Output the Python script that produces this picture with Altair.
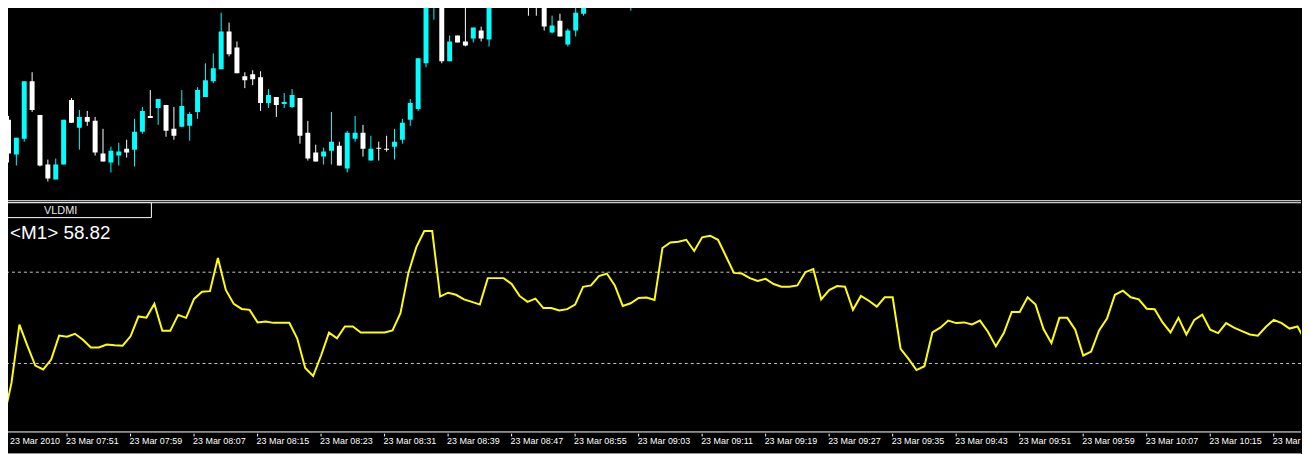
import altair as alt
import pandas as pd

# ---------------- data ----------------
candle_bar = list(range(0, 63)) + list(range(65, 74)) + [78, 79]
candle_open = [1.35082, 1.35047, 1.35063, 1.35121, 1.35087, 1.35037, 1.35022, 1.35037, 1.35102, 1.35074,
               1.35085, 1.35081, 1.35048, 1.35039, 1.35046, 1.35053, 1.35052, 1.35070, 1.35086, 1.35094,
               1.35097, 1.35073, 1.35075, 1.35076, 1.35090, 1.35105, 1.35121, 1.35133, 1.35171, 1.35155,
               1.35126, 1.35128, 1.35125, 1.35099, 1.35105, 1.35098, 1.35095, 1.35104, 1.35069, 1.35049,
               1.35045, 1.35051, 1.35056, 1.35033, 1.35063, 1.35069, 1.35041, 1.35054, 1.35053, 1.35055,
               1.35062, 1.35082, 1.35093, 1.35139, 1.35196, 1.35204, 1.35141, 1.35167, 1.35161, 1.35164,
               1.35172, 1.35163, 1.35220, 1.35205, 1.35206, 1.35206, 1.35208, 1.35170, 1.35182, 1.35158,
               1.35172, 1.35189, 1.35215, 1.35203]
candle_high = [1.35086, 1.35064, 1.35121, 1.35130, 1.35087, 1.35042, 1.35043, 1.35082, 1.35104, 1.35092,
               1.35091, 1.35085, 1.35073, 1.35055, 1.35059, 1.35062, 1.35083, 1.35095, 1.35112, 1.35103,
               1.35097, 1.35095, 1.35112, 1.35090, 1.35115, 1.35139, 1.35149, 1.35190, 1.35180, 1.35161,
               1.35130, 1.35132, 1.35131, 1.35113, 1.35105, 1.35109, 1.35113, 1.35104, 1.35081, 1.35057,
               1.35054, 1.35090, 1.35060, 1.35071, 1.35086, 1.35077, 1.35066, 1.35060, 1.35066, 1.35073,
               1.35083, 1.35103, 1.35144, 1.35205, 1.35210, 1.35208, 1.35167, 1.35167, 1.35205, 1.35175,
               1.35176, 1.35210, 1.35225, 1.35220, 1.35210, 1.35210, 1.35212, 1.35187, 1.35189, 1.35174,
               1.35199, 1.35210, 1.35220, 1.35220]
candle_low = [1.35039, 1.35036, 1.35060, 1.35090, 1.35035, 1.35020, 1.35022, 1.35037, 1.35079, 1.35052,
              1.35076, 1.35046, 1.35040, 1.35029, 1.35036, 1.35044, 1.35035, 1.35068, 1.35084, 1.35077,
              1.35065, 1.35062, 1.35075, 1.35061, 1.35083, 1.35105, 1.35119, 1.35133, 1.35146, 1.35129,
              1.35114, 1.35117, 1.35091, 1.35094, 1.35085, 1.35094, 1.35094, 1.35058, 1.35041, 1.35040,
              1.35037, 1.35037, 1.35036, 1.35029, 1.35060, 1.35045, 1.35041, 1.35041, 1.35050, 1.35042,
              1.35058, 1.35076, 1.35091, 1.35135, 1.35183, 1.35139, 1.35141, 1.35160, 1.35156, 1.35160,
              1.35161, 1.35156, 1.35195, 1.35197, 1.35187, 1.35187, 1.35172, 1.35169, 1.35166, 1.35156,
              1.35166, 1.35187, 1.35198, 1.35192]
candle_close = [1.35048, 1.35064, 1.35121, 1.35092, 1.35036, 1.35023, 1.35037, 1.35082, 1.35079, 1.35085,
                1.35080, 1.35049, 1.35040, 1.35051, 1.35050, 1.35049, 1.35070, 1.35091, 1.35084, 1.35103,
                1.35071, 1.35066, 1.35096, 1.35088, 1.35112, 1.35122, 1.35134, 1.35171, 1.35148, 1.35129,
                1.35122, 1.35123, 1.35099, 1.35107, 1.35097, 1.35100, 1.35107, 1.35066, 1.35043, 1.35040,
                1.35050, 1.35060, 1.35036, 1.35069, 1.35069, 1.35053, 1.35053, 1.35053, 1.35052, 1.35060,
                1.35079, 1.35099, 1.35144, 1.35197, 1.35206, 1.35141, 1.35161, 1.35160, 1.35157, 1.35175,
                1.35164, 1.35205, 1.35207, 1.35215, 1.35196, 1.35196, 1.35176, 1.35177, 1.35166, 1.35172,
                1.35190, 1.35205, 1.35205, 1.35215]

vldmi = [5.5, 21.5, 47.0, 37.8, 29.1, 27.4, 31.7, 42.2, 41.7, 43.0,
         40.4, 37.0, 37.0, 38.3, 38.0, 37.8, 41.9, 50.6, 50.1, 56.2,
         44.3, 44.3, 51.3, 50.0, 58.3, 61.4, 61.7, 76.2, 62.2, 56.1,
         53.9, 53.5, 48.0, 48.4, 47.8, 47.8, 47.8, 40.9, 28.0, 24.5,
         33.5, 43.5, 41.0, 46.2, 46.2, 43.6, 43.6, 43.6, 43.6, 44.5,
         52.0, 69.7, 81.0, 88.0, 88.0, 59.3, 61.0, 60.1, 58.1, 57.0,
         55.8, 67.4, 67.4, 67.4, 64.8, 59.6, 57.0, 58.4, 54.3, 54.3,
         53.2, 53.8, 55.8, 63.6, 64.2, 68.3, 69.4, 64.2, 55.2, 56.4,
         58.7, 58.9, 57.8, 80.6, 83.0, 83.3, 84.2, 79.3, 85.3, 86.0,
         84.2, 77.0, 69.7, 69.4, 67.4, 66.2, 67.1, 64.8, 63.6, 63.6,
         64.2, 70.0, 71.4, 58.1, 62.2, 63.9, 63.6, 53.5, 59.6, 57.5,
         54.9, 59.0, 59.0, 36.4, 32.0, 27.1, 28.8, 43.6, 45.7, 48.8,
         47.7, 48.0, 47.1, 48.8, 43.9, 37.5, 43.3, 52.6, 52.6, 59.0,
         55.8, 45.1, 39.0, 50.0, 50.0, 44.8, 33.5, 35.2, 44.5, 49.7,
         60.1, 61.9, 59.0, 58.1, 54.0, 53.8, 48.0, 43.6, 50.0, 42.7,
         49.1, 51.4, 44.8, 43.3, 47.7, 45.7, 44.2, 42.7, 42.2, 46.0,
         49.1, 47.7, 45.3, 46.2, 39.6]

levels = [70, 30]
tick_bars = list(range(0, 161, 8))
tick_labels = ["23 Mar 2010", "23 Mar 07:51", "23 Mar 07:59", "23 Mar 08:07", "23 Mar 08:15",
               "23 Mar 08:23", "23 Mar 08:31", "23 Mar 08:39", "23 Mar 08:47", "23 Mar 08:55",
               "23 Mar 09:03", "23 Mar 09:11", "23 Mar 09:19", "23 Mar 09:27", "23 Mar 09:35",
               "23 Mar 09:43", "23 Mar 09:51", "23 Mar 09:59", "23 Mar 10:07", "23 Mar 10:15",
               "23 Mar 10:23"]
indicator_name = "VLDMI"
indicator_readout = "<M1> 58.82"

# ---------------- layout ----------------
W = 1310
X_DOMAIN = [-0.3125, 163.4375]
FONT = "Liberation Sans"

candles = pd.DataFrame({"bar": candle_bar, "open": candle_open, "high": candle_high,
                        "low": candle_low, "close": candle_close})
candles["dir"] = ["up" if c > o else "down" for o, c in zip(candles["open"], candles["close"])]

xenc = alt.X("bar:Q", scale=alt.Scale(domain=X_DOMAIN, nice=False, zero=False), axis=None)
pscale = alt.Scale(domain=[1.35, 1.352], nice=False, zero=False)
cenc = alt.Color("dir:N", scale=alt.Scale(domain=["up", "down"], range=["#00FFFF", "#FFFFFF"]), legend=None)

cbase = alt.Chart(candles)
wicks = cbase.mark_rule(strokeWidth=1, clip=True).encode(
    x=xenc, y=alt.Y("low:Q", scale=pscale, axis=None), y2="high:Q", color=cenc)
bodies = cbase.mark_bar(size=5, clip=True).encode(
    x=xenc, y=alt.Y("open:Q", scale=pscale, axis=None), y2="close:Q", color=cenc)

one = pd.DataFrame({"a": [0]})
top_line = alt.Chart(one).mark_rule(color="white", strokeWidth=1).encode(
    x=alt.value(0), x2=alt.value(W), y=alt.value(199.5))
top_left = alt.Chart(one).mark_rule(color="white", strokeWidth=1).encode(
    x=alt.value(1.5), y=alt.value(0), y2=alt.value(199))

top = alt.layer(wicks, bodies, top_line, top_left).properties(width=W, height=200)

# indicator panel
ind = pd.DataFrame({"bar": list(range(len(vldmi))), "value": vldmi})
vscale = alt.Scale(domain=[-0.2174, 101.087], nice=False, zero=False)
line = alt.Chart(ind).mark_line(color="#FFFF00", strokeWidth=2, clip=True).encode(
    x=xenc, y=alt.Y("value:Q", scale=vscale, axis=None))
lev = alt.Chart(pd.DataFrame({"level": levels})).mark_rule(
    color="#c8c8c8", strokeWidth=1, strokeDash=[3, 3]).encode(
    y=alt.Y("level:Q", scale=vscale, axis=None))
sep2 = alt.Chart(one).mark_rule(color="white", strokeWidth=1).encode(
    x=alt.value(0), x2=alt.value(W), y=alt.value(1.5))
axis_line = alt.Chart(one).mark_rule(color="white", strokeWidth=1).encode(
    x=alt.value(0), x2=alt.value(W), y=alt.value(232.5))
left2 = alt.Chart(one).mark_rule(color="white", strokeWidth=1).encode(
    x=alt.value(1.5), y=alt.value(1), y2=alt.value(233))
box = alt.Chart(one).mark_rect(fill="black", stroke="white", strokeWidth=1).encode(
    x=alt.value(1.5), x2=alt.value(151.5), y=alt.value(1.5), y2=alt.value(16.5))
name_txt = alt.Chart(pd.DataFrame({"t": [indicator_name]})).mark_text(
    font=FONT, fontSize=11, color="#e8e8e8", align="center", baseline="middle").encode(
    x=alt.value(60), y=alt.value(9.5), text="t:N")
read_txt = alt.Chart(pd.DataFrame({"t": [indicator_readout]})).mark_text(
    font=FONT, fontSize=19, color="white", align="left", baseline="alphabetic").encode(
    x=alt.value(9), y=alt.value(37.7), text="t:N")

bottom = alt.layer(lev, line, sep2, axis_line, left2, box, name_txt, read_txt).properties(width=W, height=233)

# time axis strip
ticks = pd.DataFrame({"bar": tick_bars, "label": tick_labels})
tick_marks = alt.Chart(ticks).mark_rule(color="white", strokeWidth=1, clip=True).encode(
    x=xenc, y=alt.value(0), y2=alt.value(3))
tick_text = alt.Chart(ticks.iloc[1:]).mark_text(
    font=FONT, fontSize=9, color="white", align="left", baseline="middle", dx=-1, clip=True).encode(
    x=xenc, y=alt.value(7.5), text="label:N")
first_text = alt.Chart(ticks.iloc[:1]).mark_text(
    font=FONT, fontSize=9, color="white", align="left", baseline="middle").encode(
    x=alt.value(9), y=alt.value(7.5), text="label:N")
frame_line = alt.Chart(one).mark_rule(color="#d4d0c8", strokeWidth=1).encode(
    x=alt.value(0), x2=alt.value(W), y=alt.value(20.5))
axis_strip = alt.layer(tick_marks, tick_text, first_text, frame_line).properties(width=W, height=21)

chart = alt.vconcat(top, bottom, axis_strip, spacing=0).resolve_scale(
    x="independent", y="independent", color="independent"
).properties(
    padding={"left": -8, "top": -8, "right": 0, "bottom": 0}
).configure(background="black").configure_view(stroke=None)

chart.save("out.html", embed_options={"renderer": "svg", "actions": False})
